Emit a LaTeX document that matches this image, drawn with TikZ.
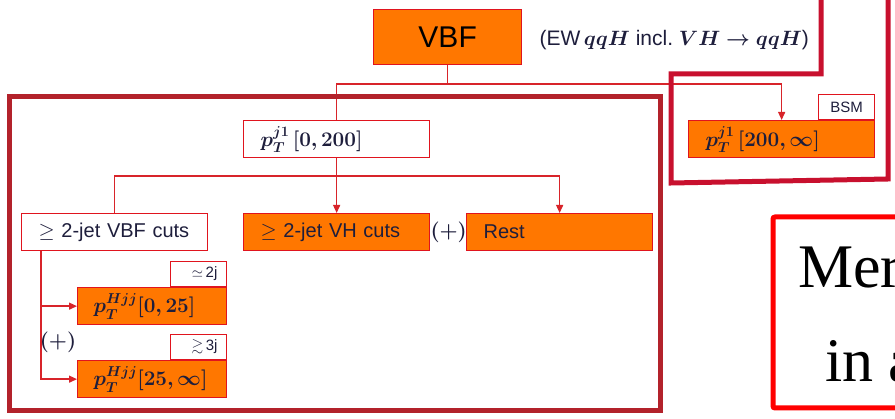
\documentclass[tikz,border=0pt]{standalone}
\usepackage[no-math]{fontspec}
\setmainfont{Liberation Sans}
\newfontfamily\serifface{Liberation Serif}
\usepackage{amsmath,amssymb,bm}
\usetikzlibrary{arrows.meta}

\definecolor{binorange}{HTML}{FF7700}
\definecolor{boxred}{HTML}{E0141E}
\definecolor{linkred}{HTML}{D8242A}
\definecolor{frameda}{HTML}{B3222B}
\definecolor{framebsm}{HTML}{C8102E}
\definecolor{notered}{HTML}{FF0000}
\definecolor{inkblue}{HTML}{1E1E3C}

\tikzset{
  bin/.style={draw=boxred, line width=1.3pt, fill=binorange, text=inkblue,
    anchor=north west, minimum height=37pt, inner ysep=0pt, align=left},
  cut/.style={bin, fill=white},
  wide/.style={text width=152pt, inner xsep=17pt},
  narrow/.style={text width=117pt, inner xsep=16pt},
  tag/.style={draw=boxred, line width=1.3pt, fill=white, text=inkblue,
    anchor=south east, minimum width=56pt, minimum height=25pt,
    inner sep=0pt, font=\fontsize{15}{17}\selectfont},
  link/.style={draw=linkred, line width=1.3pt},
  tip/.style={-{Triangle[length=8pt,width=7pt]}},
  lbl/.style={font=\fontsize{20}{24}\selectfont},
  biglbl/.style={font=\fontsize{22}{26}\selectfont},
}

\begin{document}
\begin{tikzpicture}[x=1pt,y=-1pt]
\useasboundingbox (0,0) rectangle (895,419);

% top-level production bin
\node[bin, minimum height=55pt, text width=148pt, inner xsep=0pt, align=center,
      font=\fontsize{30}{34}\selectfont, text=black] (vbf) at (373,9) {VBF};
\node[anchor=west, text=inkblue, font=\fontsize{21}{25}\selectfont] (vbfnote) at (536,40)
  {(EW\,$\bm{qqH}$ incl.\ $\bm{VH\to qqH}$)};

% leading-jet pT split
\node[cut, wide, lbl] (ptlow) at (243,120) {$\bm{p_T^{j1}\,[0,200]}$};
\node[bin, wide, lbl] (pthigh) at (688,120) {$\bm{p_T^{j1}\,[200,\infty]}$};
\node[tag] (bsm) at (pthigh.north east) {BSM};

% jet topology split
\node[cut, wide, lbl] (vbfcuts) at (21,213) {$\geq$~2-jet~VBF~cuts};
\node[bin, wide, lbl] (vhcuts) at (243,213) {$\geq$~2-jet~VH~cuts};
\node[anchor=west, text=inkblue, biglbl, inner sep=0pt] (plusa) at (vhcuts.east) {$\bm{(+)}$};
\node[bin, wide, lbl] (rest) at (466,213) {Rest};

% Higgs+dijet pT split
\node[bin, narrow, biglbl] (hjjlow) at (77,287) {$\bm{p_T^{Hjj}[0,25]}$};
\node[tag] (twoj) at (hjjlow.north east) {\hspace*{12pt}$\simeq$\,2j};
\node[bin, narrow, biglbl] (hjjhigh) at (77,360) {$\bm{p_T^{Hjj}[25,\infty]}$};
\node[tag] (threej) at (hjjhigh.north east) {\hspace*{12pt}$\gtrsim$\,3j};
\node[text=inkblue, biglbl, inner sep=0pt] (plusb) at (58,342) {$\bm{(+)}$};

% connectors
\coordinate (bar1) at (vbf.south |- 0,84);
\coordinate (bar2) at (ptlow.south |- 0,176);
\coordinate (trunk) at ([xshift=20pt]vbfcuts.south west);
\draw[link] (vbf.south) -- (bar1);
\draw[link] (bar1) -| (ptlow.north);
\draw[link, tip] (bar1) -| (pthigh.north);
\draw[link, tip] (ptlow.south) -- (vhcuts.north);
\draw[link] (bar2) -| (vbfcuts.north);
\draw[link, tip] (bar2) -| (rest.north);
\draw[link, tip] (trunk) |- (hjjlow.west);
\draw[link, tip] (trunk) |- (hjjhigh.west);

% grouping frames
\draw[frameda, line width=5pt] (9,97) rectangle (660,411);
\draw[framebsm, line width=5pt, line join=miter]
  (821,-10) -- (821,74) -- (671,74) -- (671,183) -- (888,179) -- (888,-10);

% note box
\draw[notered, line width=5pt, rounded corners=2pt] (773,217) rectangle (920,408);
\node[anchor=base west, inner sep=0pt, font=\serifface\fontsize{62}{70}\selectfont]
  (notea) at (798,288) {Mer};
\node[anchor=base west, inner sep=0pt, font=\serifface\fontsize{62}{70}\selectfont]
  (noteb) at (825,382) {in a};
\end{tikzpicture}
\end{document}
